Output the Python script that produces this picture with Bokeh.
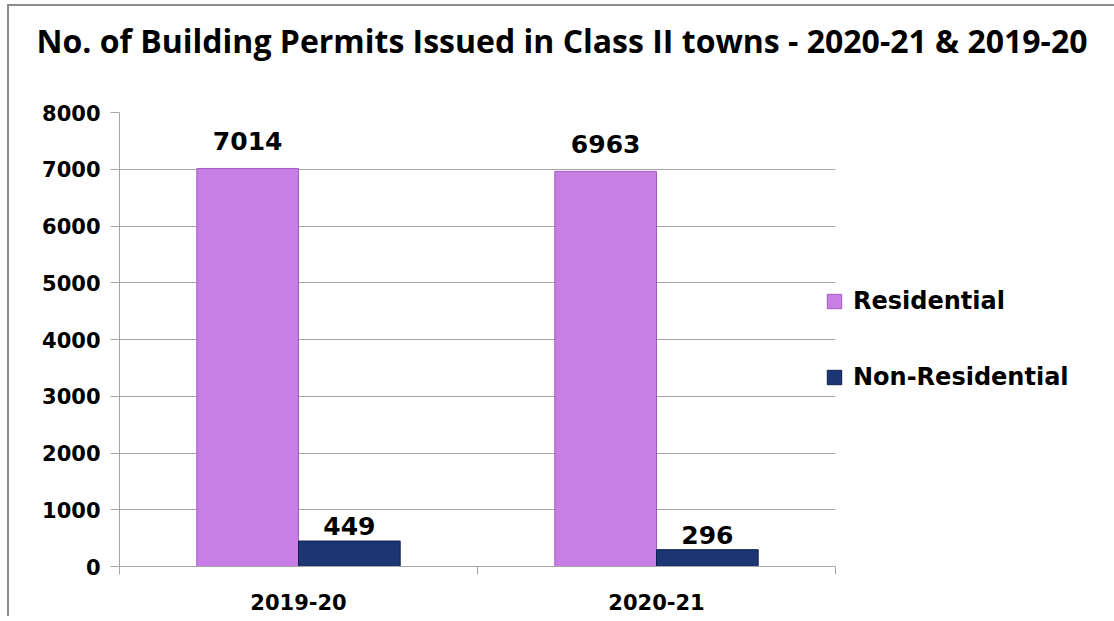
from bokeh.plotting import figure
from bokeh.models import ColumnDataSource, FixedTicker, Legend, LegendItem, Range1d, Title
from bokeh.transform import dodge
from bokeh.embed import file_html
from bokeh.resources import INLINE
from bokeh.core.properties import value

years = ["2019-20", "2020-21"]
residential = [7014, 6963]
non_residential = [449, 296]
y_ticks = [0, 1000, 2000, 3000, 4000, 5000, 6000, 7000, 8000]
title_text = "No. of Building Permits Issued in Class II towns - 2020-21 & 2019-20"

pos = [i + 0.5 for i in range(len(years))]
bounds = [float(i) for i in range(len(years) + 1)]
src = ColumnDataSource(dict(
    pos=pos,
    res=residential,
    non=non_residential,
    res_lbl=[str(v) for v in residential],
    non_lbl=[str(v) for v in non_residential],
))

LABEL_FONT = "DejaVu Sans"
GRID = "#a6a6a6"

p = figure(frame_width=716, frame_height=454,
           x_range=Range1d(0, len(years)), y_range=Range1d(0, 8000),
           output_backend="svg", toolbar_location=None,
           min_border_left=110, min_border_right=270,
           min_border_top=106, min_border_bottom=50,
           title=None)
p.styles = {"border-left": "2px solid #8c8c8c", "border-top": "2px solid #8c8c8c",
            "margin-left": "7px", "margin-top": "4px", "box-sizing": "content-box"}

# spacer between frame and title (closest to frame)
spacer = Title(text=" ", text_font_size="1px", standoff=34)
p.add_layout(spacer, "above")
main_title = Title(text=title_text, text_font="Open Sans", text_font_style="bold",
                   text_font_size="32px", align="left", vertical_align="top",
                   offset=-83, standoff=23, text_color="#000000")
p.add_layout(main_title, "above")

p.outline_line_color = None
p.background_fill_color = "white"
p.xgrid.grid_line_color = None
p.ygrid.grid_line_color = GRID
p.ygrid.ticker = FixedTicker(ticks=y_ticks)

xa = p.xaxis[0]
xa.ticker = FixedTicker(ticks=pos, minor_ticks=bounds)
xa.major_label_overrides = {pv: y for pv, y in zip(pos, years)}
xa.major_tick_line_color = None
xa.major_tick_out = 0
xa.major_tick_in = 0
xa.minor_tick_line_color = GRID
xa.minor_tick_out = 8
xa.minor_tick_in = 0
xa.axis_line_color = GRID
xa.major_label_text_font = LABEL_FONT
xa.major_label_text_font_style = "bold"
xa.major_label_text_font_size = "21px"
xa.major_label_text_color = "black"
xa.major_label_standoff = 19

ya = p.yaxis[0]
ya.ticker = FixedTicker(ticks=y_ticks)
ya.major_tick_out = 9
ya.major_tick_in = 0
ya.major_tick_line_color = GRID
ya.minor_tick_line_color = None
ya.axis_line_color = GRID
ya.major_label_text_font = LABEL_FONT
ya.major_label_text_font_style = "bold"
ya.major_label_text_font_size = "21px"
ya.major_label_text_color = "black"
ya.major_label_standoff = 10

W = 0.284
OFF = 0.142
r1 = p.vbar(x=dodge("pos", -OFF), top="res", width=W, bottom=0, source=src,
            fill_color="#c77ee5", line_color="#a35bc2", line_width=1)
r2 = p.vbar(x=dodge("pos", OFF), top="non", width=W, bottom=0, source=src,
            fill_color="#1b3672", line_color="#0d1f4c", line_width=1)

p.text(x=dodge("pos", -OFF), y="res", text="res_lbl", source=src,
       text_align="center", text_baseline="bottom", y_offset=-18,
       text_font=value(LABEL_FONT), text_font_style="bold", text_font_size="25px",
       text_color="black")
p.text(x=dodge("pos", OFF), y="non", text="non_lbl", source=src,
       text_align="center", text_baseline="bottom", y_offset=-6,
       text_font=value(LABEL_FONT), text_font_style="bold", text_font_size="25px",
       text_color="black")

legend = Legend(items=[LegendItem(label="Residential", renderers=[r1]),
                       LegendItem(label="Non-Residential", renderers=[r2])],
                location=(-10, 175))
legend.border_line_color = None
legend.background_fill_alpha = 0
legend.padding = 0
legend.margin = 0
legend.glyph_width = 18
legend.glyph_height = 18
legend.label_standoff = 10
legend.label_height = 18
legend.spacing = 48
legend.label_text_font = LABEL_FONT
legend.label_text_font_style = "bold"
legend.label_text_font_size = "24px"
legend.label_text_color = "black"
p.add_layout(legend, "right")

open("out.html", "w").write(file_html(p, INLINE))
